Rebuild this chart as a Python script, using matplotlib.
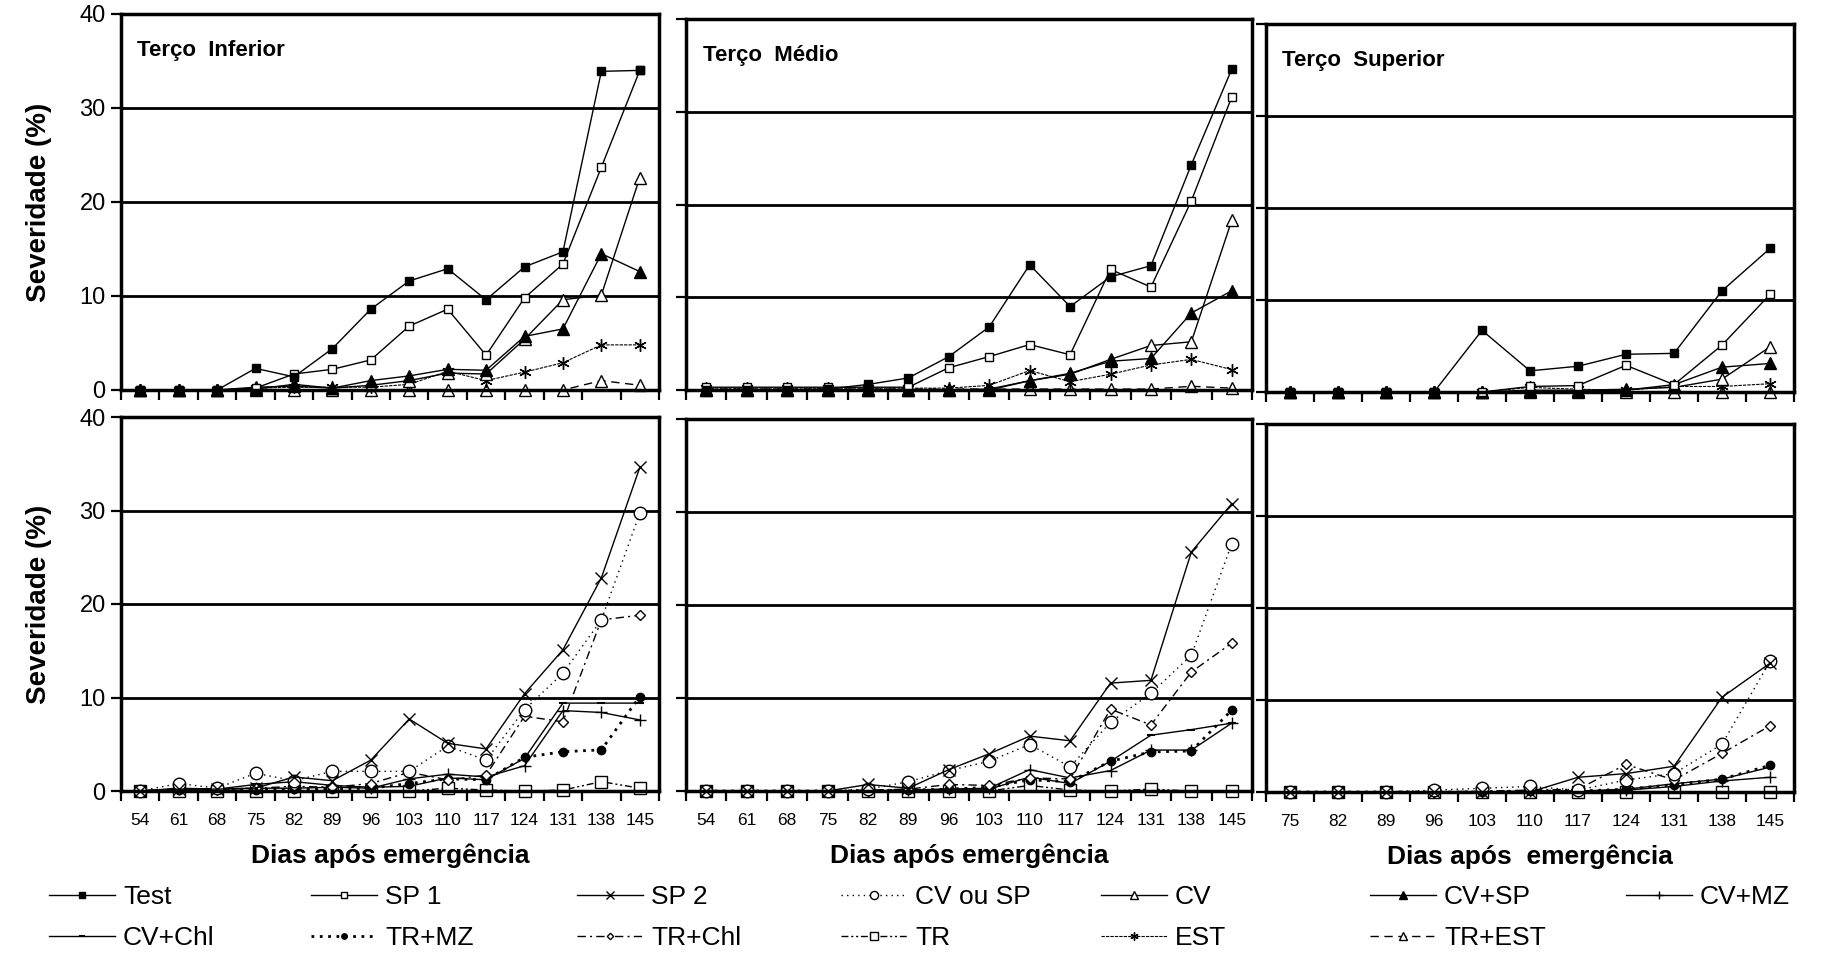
import matplotlib
matplotlib.use("Agg")
import matplotlib.pyplot as plt
from matplotlib.lines import Line2D
from matplotlib.ticker import FixedLocator, NullFormatter, FixedFormatter
import numpy as np

plt.rcParams["font.family"] = ["Liberation Sans", "DejaVu Sans"]

# days after emergence
days_full = [54, 61, 68, 75, 82, 89, 96, 103, 110, 117, 124, 131, 138, 145]
days_sup = [75, 82, 89, 96, 103, 110, 117, 124, 131, 138, 145]

# --- top row: Terço Inferior ---
test_inf = [0, 0, 0, 2.3, 1.4, 4.4, 8.6, 11.6, 12.9, 9.6, 13.1, 14.7, 33.9, 34.0]
sp1_inf = [0, 0, 0, 0.2, 1.7, 2.2, 3.2, 6.8, 8.6, 3.7, 9.8, 13.4, 23.7, 34.0]
cv_inf = [0, 0, 0, 0.3, 0.4, 0.2, 0.5, 1.0, 1.8, 1.7, 5.4, 9.6, 10.1, 22.6]
cvsp_inf = [0, 0, 0, 0.1, 0.6, 0.2, 1.0, 1.5, 2.2, 2.1, 5.7, 6.5, 14.5, 12.6]
est_inf = [0, 0, 0, 0.2, 0.3, 0.3, 0.3, 0.6, 2.0, 1.0, 1.9, 2.9, 4.8, 4.8]
trest_inf = [0, 0, 0, 0, 0, 0, 0, 0, 0, 0, 0, 0, 1.0, 0.5]

# --- top row: Terço Médio ---
test_med = [0, 0, 0, 0.1, 0.6, 1.3, 3.6, 6.8, 13.5, 9.0, 12.2, 13.4, 24.3, 34.6]
sp1_med = [0.3, 0.3, 0.3, 0.3, 0.3, 0.3, 2.4, 3.6, 4.9, 3.8, 13.0, 11.1, 20.4, 31.6]
cv_med = [0, 0, 0, 0, 0, 0, 0, 0, 1.0, 1.7, 3.3, 4.8, 5.2, 18.3]
cvsp_med = [0, 0, 0, 0, 0, 0, 0, 0.1, 1.0, 1.8, 3.1, 3.4, 8.3, 10.7]
est_med = [0.2, 0.2, 0.2, 0.2, 0.2, 0.2, 0.2, 0.5, 2.1, 0.9, 1.7, 2.7, 3.3, 2.2]
trest_med = [0.1, 0.1, 0.1, 0.1, 0.1, 0.1, 0.1, 0.1, 0.1, 0.1, 0.1, 0.1, 0.4, 0.2]

# --- top row: Terço Superior ---
test_sup = [0, 0, 0, 0, 6.7, 2.3, 2.8, 4.1, 4.2, 11.0, 15.6]
sp1_sup = [0, 0, 0, 0, 0, 0.6, 0.7, 2.9, 0.8, 5.1, 10.6]
cv_sup = [0, 0, 0, 0, 0, 0.2, 0.2, 0.3, 0.5, 1.4, 4.9]
cvsp_sup = [0, 0, 0, 0, 0, 0.1, 0.1, 0.2, 0.8, 2.7, 3.1]
est_sup = [0, 0, 0, 0, 0, 0.5, 0.3, 0.2, 0.6, 0.6, 0.9]
trest_sup = [0, 0, 0, 0, 0, 0, 0, 0, 0, 0, 0]

# --- bottom row: Terço Inferior ---
sp2_inf = [0, 0.2, 0.2, 0.3, 1.5, 1.1, 3.3, 7.7, 5.1, 4.5, 10.4, 15.1, 22.8, 34.6]
cvousp_inf = [0, 0.8, 0.3, 1.9, 1.1, 2.1, 2.1, 2.1, 4.8, 3.3, 8.7, 12.6, 18.3, 29.7]
trmz_inf = [0, 0.1, 0.1, 0.1, 0.2, 0.2, 0.3, 0.8, 1.3, 1.2, 3.6, 4.2, 4.4, 10.1]
trchl_inf = [0, 0.2, 0.2, 0.3, 0.5, 0.4, 0.8, 2.0, 1.2, 1.7, 8.0, 7.4, 18.3, 18.8]
tr_inf = [0, 0, 0, 0, 0, 0, 0, 0, 0.3, 0.1, 0, 0.1, 1.0, 0.3]
cvmz_inf = [0, 0.2, 0.2, 0.3, 0.3, 0.4, 0.3, 1.3, 1.8, 1.5, 2.7, 8.6, 8.4, 7.6]
cvchl_inf = [0, 0.3, 0.2, 0.7, 1.0, 0.6, 0.4, 0.5, 1.4, 1.2, 3.5, 9.4, 9.4, 9.4]

# --- bottom row: Terço Médio ---
sp2_med = [0, 0, 0, 0, 0.7, 0.3, 2.3, 4.0, 5.9, 5.4, 11.6, 11.9, 25.7, 30.9]
cvousp_med = [0, 0, 0, 0, 0.2, 1.0, 2.2, 3.2, 5.0, 2.6, 7.4, 10.5, 14.6, 26.6]
trmz_med = [0, 0, 0, 0, 0, 0.1, 0.2, 0.4, 1.2, 1.0, 3.2, 4.2, 4.3, 8.7]
trchl_med = [0, 0, 0, 0, 0.1, 0.2, 0.7, 0.6, 1.4, 1.3, 8.8, 7.1, 12.8, 15.9]
tr_med = [0, 0, 0, 0, 0, 0, 0, 0, 0.6, 0.1, 0, 0.2, 0, 0]
cvmz_med = [0, 0, 0, 0, 0, 0.1, 0.2, 0.3, 2.3, 1.4, 2.2, 4.4, 4.4, 7.3]
cvchl_med = [0, 0, 0, 0, 0, 0.1, 0.2, 0.2, 1.5, 0.8, 3.2, 6.0, 6.6, 7.3]

# --- bottom row: Terço Superior ---
sp2_sup = [0, 0, 0, 0, 0, 0, 1.6, 2.0, 2.8, 10.3, 14.0]
cvousp_sup = [0, 0, 0, 0.2, 0.4, 0.6, 0.2, 1.3, 2.0, 5.2, 14.2]
trmz_sup = [0, 0, 0, 0, 0, 0.1, 0.1, 0.3, 0.8, 1.4, 2.9]
trchl_sup = [0, 0, 0, 0, 0.1, 0.2, 0.3, 3.0, 1.3, 4.2, 7.2]
tr_sup = [0, 0, 0, 0, 0, 0, 0, 0, 0, 0, 0]
cvmz_sup = [0, 0, 0, 0, 0, 0.1, 0.1, 0.2, 0.6, 1.2, 1.6]
cvchl_sup = [0, 0, 0, 0, 0, 0.1, 0.1, 0.3, 0.9, 1.4, 2.7]

K = "black"
STYLE = {
    "Test":     dict(ls="-", lw=1.0, marker="s", ms=6, mfc=K, mec=K),
    "SP 1":     dict(ls="-", lw=1.0, marker="s", ms=6, mfc="white", mec=K),
    "SP 2":     dict(ls="-", lw=1.0, marker="x", ms=8, mew=1.0, mec=K),
    "CV ou SP": dict(ls=(0, (1, 3)), lw=1.0, marker="o", ms=9, mfc="white", mec=K),
    "CV":       dict(ls="-", lw=1.0, marker="^", ms=9, mfc="white", mec=K),
    "CV+SP":    dict(ls="-", lw=1.0, marker="^", ms=9, mfc=K, mec=K),
    "CV+MZ":    dict(ls="-", lw=1.0, marker="+", ms=9, mew=1.0, mec=K),
    "CV+Chl":   dict(ls="-", lw=1.0, marker="_", ms=6, mew=1.5, mec=K),
    "TR+MZ":    dict(ls=(0, (1, 2)), lw=2.0, marker="o", ms=6, mfc=K, mec=K),
    "TR+Chl":   dict(ls=(0, (6, 3, 1.5, 3)), lw=1.0, marker="D", ms=5, mfc="white", mec=K),
    "TR":       dict(ls=(0, (5, 2, 1.5, 2, 1.5, 2)), lw=1.0, marker="s", ms=9, mfc="white", mec=K),
    "EST":      dict(ls=(0, (3, 1)), lw=0.8, marker=(6, 2, 0), ms=9, mew=1.0, mec=K),
    "TR+EST":   dict(ls=(0, (6, 4)), lw=1.0, marker="^", ms=9, mfc="white", mec=K),
}

top_series = [
    ("TR+EST", trest_inf, trest_med, trest_sup),
    ("EST", est_inf, est_med, est_sup),
    ("CV", cv_inf, cv_med, cv_sup),
    ("CV+SP", cvsp_inf, cvsp_med, cvsp_sup),
    ("SP 1", sp1_inf, sp1_med, sp1_sup),
    ("Test", test_inf, test_med, test_sup),
]
bottom_series = [
    ("TR", tr_inf, tr_med, tr_sup),
    ("CV+Chl", cvchl_inf, cvchl_med, cvchl_sup),
    ("CV+MZ", cvmz_inf, cvmz_med, cvmz_sup),
    ("TR+MZ", trmz_inf, trmz_med, trmz_sup),
    ("TR+Chl", trchl_inf, trchl_med, trchl_sup),
    ("CV ou SP", cvousp_inf, cvousp_med, cvousp_sup),
    ("SP 2", sp2_inf, sp2_med, sp2_sup),
]

W, H = 1821, 957
fig = plt.figure(figsize=(W / 100, H / 100), dpi=100)
fig.patch.set_facecolor("white")


def px_axes(left, top, right, bottom):
    return fig.add_axes([left / W, 1 - bottom / H, (right - left) / W, (bottom - top) / H])


# pixel boxes (left, top, right, bottom)
boxes = [
    [(121, 14, 659, 390), (686, 19, 1252, 390), (1266, 24, 1794, 392)],
    [(121, 417, 659, 791), (686, 419, 1252, 791), (1266, 424, 1794, 792)],
]
titles = ["Terço  Inferior", "Terço  Médio", "Terço  Superior"]
xlabels = ["Dias após emergência", "Dias após emergência", "Dias após  emergência"]

for r in range(2):
    series = top_series if r == 0 else bottom_series
    for c in range(3):
        ax = px_axes(*boxes[r][c])
        days = days_sup if c == 2 else days_full
        n = len(days)
        x = np.arange(n)
        for name, *vals in series:
            ax.plot(x, vals[c], color=K, clip_on=False, zorder=3, **STYLE[name])
        ax.set_xlim(-0.5, n - 0.5)
        ax.set_ylim(0, 40)
        ax.set_yticks([0, 10, 20, 30, 40])
        for yv in (10, 20, 30):
            ax.axhline(yv, color=K, lw=2.0, zorder=1)
        for sp in ax.spines.values():
            sp.set_linewidth(2.5)
            sp.set_zorder(4)
        ax.xaxis.set_major_locator(FixedLocator(np.arange(-0.5, n, 1.0)))
        ax.xaxis.set_major_formatter(NullFormatter())
        ax.tick_params(axis="x", which="major", direction="out", length=7, width=1.6)
        ax.tick_params(axis="y", direction="out", length=7, width=1.6, labelsize=17, pad=4)
        if r == 1:
            ax.xaxis.set_minor_locator(FixedLocator(x))
            ax.xaxis.set_minor_formatter(FixedFormatter([str(d) for d in days]))
            ax.tick_params(axis="x", which="minor", length=0, labelsize=12.5, pad=16)
            ax.set_xlabel(xlabels[c], fontsize=19, fontweight="bold", labelpad=11)
        if c == 0:
            ax.set_ylabel("Severidade (%)", fontsize=20, fontweight="bold", labelpad=20)
        else:
            ax.set_yticklabels([])
        if r == 0:
            ax.text(0.03, 0.93, titles[c], transform=ax.transAxes, fontsize=16,
                    fontweight="bold", ha="left", va="top")

# legend, one entry per position
legend_rows = [
    ["Test", "SP 1", "SP 2", "CV ou SP", "CV", "CV+SP", "CV+MZ"],
    ["CV+Chl", "TR+MZ", "TR+Chl", "TR", "EST", "TR+EST"],
]
col_x = [49, 311, 577, 841, 1101, 1370, 1626]
row_y = [897, 938]
for ri, row in enumerate(legend_rows):
    for ci, name in enumerate(row):
        st = dict(STYLE[name])
        st["ms"] = st["ms"] * 0.65
        h = Line2D([], [], color=K, **st)
        fig.legend([h], [name], loc="center left",
                   bbox_to_anchor=(col_x[ci] / W, 1 - row_y[ri] / H),
                   frameon=False, fontsize=19, handlelength=2.5, handletextpad=0.3,
                   borderpad=0, borderaxespad=0)

fig.savefig("out.png", dpi=100, facecolor="white")
